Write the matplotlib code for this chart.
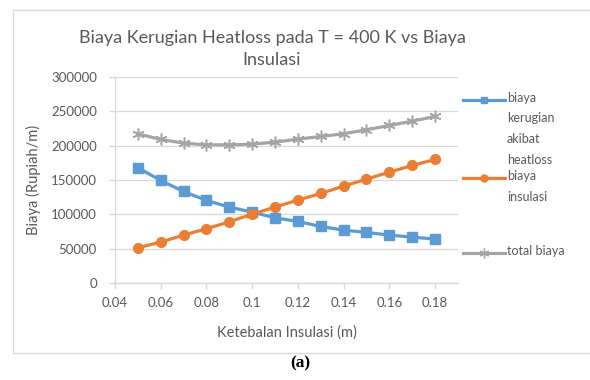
import numpy as np
import matplotlib
matplotlib.use("Agg")
import matplotlib.pyplot as plt
from matplotlib.lines import Line2D
from matplotlib.patches import Rectangle

# data
tebal = [0.05, 0.06, 0.07, 0.08, 0.09, 0.10, 0.11, 0.12, 0.13, 0.14, 0.15, 0.16, 0.17, 0.18]
biaya_heatloss = [168000, 149500, 133500, 120400, 110700, 103400, 95100, 89800,
                  82500, 77200, 73800, 69900, 67000, 64100]
biaya_insulasi = [51500, 59700, 69900, 79100, 89300, 100500, 110700, 120900,
                  130600, 141300, 151400, 161600, 171300, 180100]
total_biaya = [217500, 209200, 203900, 201400, 201400, 202400, 205300, 209700,
               213600, 217500, 223300, 229600, 235900, 242700]

x_ticks = [0.04, 0.06, 0.08, 0.1, 0.12, 0.14, 0.16, 0.18]
x_ticklabels = ["0.04", "0.06", "0.08", "0.1", "0.12", "0.14", "0.16", "0.18"]
y_ticks = [0, 50000, 100000, 150000, 200000, 250000, 300000]

labels = ["biaya\nkerugian\nakibat\nheatloss", "biaya\ninsulasi", "total biaya"]

BLUE = "#5B9BD5"
ORANGE = "#ED7D31"
GRAY = "#A5A5A5"
TXT = "#595959"
GRID = "#D9D9D9"

plt.rcParams['font.family'] = ['Lato', 'DejaVu Sans']

fig = plt.figure(figsize=(5.9, 3.8), dpi=100)
ax = fig.add_axes([0.195, 0.255, 0.581, 0.542])

# chart frame
fig.patches.append(Rectangle((13 / 590, 1 - 353 / 380), 0.99, 343 / 380,
                             transform=fig.transFigure, fill=False,
                             edgecolor=GRID, linewidth=1.0))

star = (6, 2, 0)
ax.plot(tebal, biaya_heatloss, color=BLUE, lw=2.3, marker="s", ms=7, zorder=3)
ax.plot(tebal, biaya_insulasi, color=ORANGE, lw=2.3, marker="o", ms=7, zorder=3)
ax.plot(tebal, total_biaya, color=GRAY, lw=2.3, marker=star, ms=8.5, mew=1.1,
        zorder=3)

ax.set_xlim(0.04, 0.19)
ax.set_ylim(0, 300000)
ax.set_xticks(x_ticks)
ax.set_xticklabels(x_ticklabels)
ax.set_yticks(y_ticks)
ax.yaxis.grid(True, color=GRID, lw=0.9)
ax.set_axisbelow(True)

for s in ["top", "right"]:
    ax.spines[s].set_visible(False)
for s in ["left", "bottom"]:
    ax.spines[s].set_color(GRID)
    ax.spines[s].set_linewidth(1.0)
ax.tick_params(colors=GRID, labelcolor=TXT, labelsize=9.5, length=4, width=1.0)
ax.tick_params(axis="x", pad=6)
ax.tick_params(axis="y", pad=9)

ax.set_xlabel("Ketebalan Insulasi (m)", color=TXT, fontsize=10.5, labelpad=12)
ax.set_ylabel("Biaya (Rupiah/m)", color=TXT, fontsize=10.5, labelpad=7)

fig.text(272 / 590, 1 - 49 / 380,
         "Biaya Kerugian Heatloss pada T = 400 K vs Biaya\nInsulasi",
         ha="center", va="center", color=TXT, fontsize=13, linespacing=1.5)

# legend drawn by hand, Excel style
leg_y = [100, 178, 253]
leg_specs = [(BLUE, "s", 5, 1), (ORANGE, "o", 5, 1), (GRAY, star, 7, 1.0)]
for yy, lab, (c, m, ms, mw) in zip(leg_y, labels, leg_specs):
    yf = 1 - yy / 380
    fig.add_artist(Line2D([463 / 590, 505 / 590], [yf, yf], color=c, lw=2.3,
                          transform=fig.transFigure))
    fig.add_artist(Line2D([484 / 590], [yf], color=c, marker=m, ms=ms, mew=mw,
                          transform=fig.transFigure))
    fig.text(507 / 590, yf + 8 / 380, lab, ha="left", va="top", color=TXT,
             fontsize=9, linespacing=1.85)

fig.text(300 / 590, 1 - 363 / 380, "(a)", ha="center", va="center",
         family="Liberation Serif", fontweight="bold", fontsize=12.5, color="black")

fig.savefig("out.png", dpi=100, facecolor="white")
